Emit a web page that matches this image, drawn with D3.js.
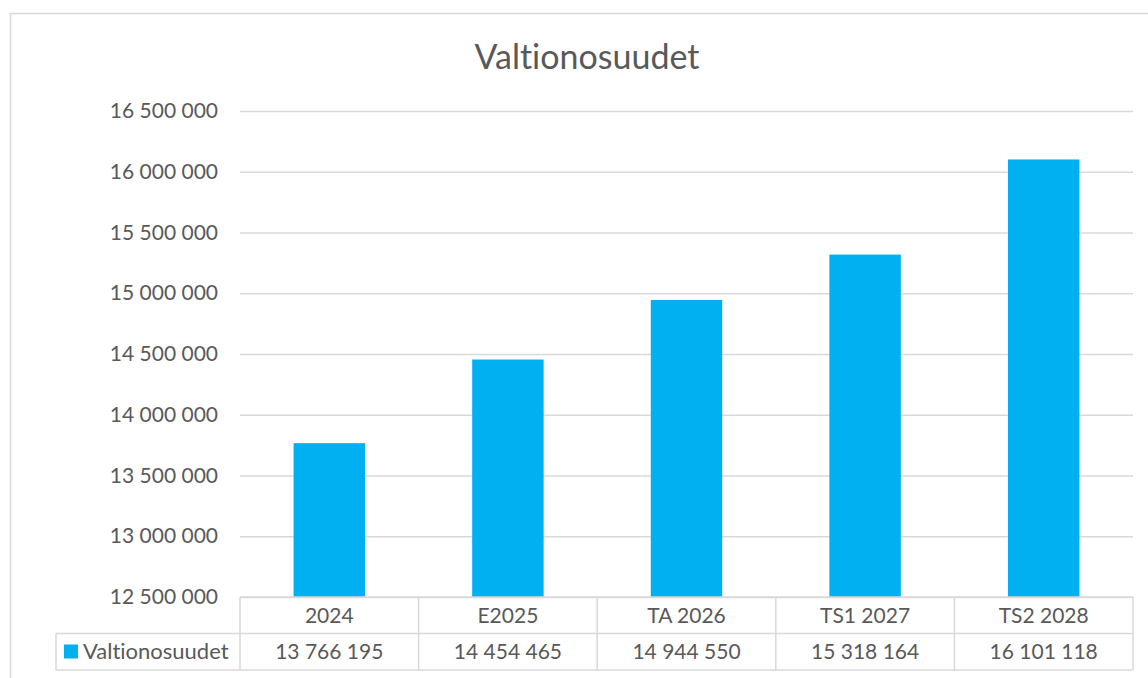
<!DOCTYPE html>
<html>
<head>
<meta charset="utf-8">
<script src="https://cdn.jsdelivr.net/npm/d3@7"></script>
<style>
  body { margin: 0; background: #fff; }
  text { font-family: Lato, "Open Sans", sans-serif; fill: #595959; font-variant-ligatures: none; }
</style>
</head>
<body>
<div id="chart"></div>
<script>
// Data
const categories = ["2024", "E2025", "TA 2026", "TS1 2027", "TS2 2028"];
const values = [13766195, 14454465, 14944550, 15318164, 16101118];
const seriesName = "Valtionosuudet";
const yTicks = [12500000, 13000000, 13500000, 14000000, 14500000, 15000000, 15500000, 16000000, 16500000];

const W = 1148, H = 678;
const plot = {left: 240, right: 1133, top: 111, bottom: 597};
const rowH = 36.5;
const barColor = "#00b0f0";
const lineColor = "#d9d9d9";
const fontSize = "21px";

const fmt = v => d3.format(",")(v).replace(/,/g, " ");

const svg = d3.select("#chart").append("svg")
    .attr("width", W)
    .attr("height", H);

// Outer chart frame (extends past the image on right/bottom)
svg.append("rect")
    .attr("x", 10.5).attr("y", 13.5)
    .attr("width", W + 20).attr("height", H + 20)
    .attr("fill", "none")
    .attr("stroke", lineColor)
    .attr("stroke-width", 1.5);

// Title
svg.append("text")
    .attr("x", 587).attr("y", 69)
    .attr("text-anchor", "middle")
    .style("font-size", "34px")
    .text(seriesName);

const x = d3.scaleBand()
    .domain(categories)
    .range([plot.left, plot.right])
    .paddingInner(0.6)
    .paddingOuter(0.3);

const xCell = d3.scaleBand()
    .domain(categories)
    .range([plot.left, plot.right]);

const y = d3.scaleLinear()
    .domain([12500000, 16500000])
    .range([plot.bottom, plot.top]);

// Gridlines + y labels
const yAxis = d3.axisLeft(y)
    .tickValues(yTicks)
    .tickSize(-(plot.right - plot.left))
    .tickPadding(22)
    .tickFormat(fmt);

const gy = svg.append("g")
    .attr("transform", `translate(${plot.left},0)`)
    .call(yAxis);
gy.select(".domain").remove();
gy.selectAll(".tick line").attr("stroke", lineColor).attr("stroke-width", 1.5);
gy.selectAll(".tick text")
    .style("font-size", fontSize)
    .style("fill", "#595959");

// Bars
svg.append("g").selectAll("rect")
    .data(values)
    .join("rect")
    .attr("x", (d, i) => x(categories[i]))
    .attr("width", x.bandwidth())
    .attr("y", d => y(d))
    .attr("height", d => y(12500000) - y(d))
    .attr("fill", barColor);

// Data table
const table = svg.append("g");
const r0 = plot.bottom, r1 = plot.bottom + rowH, r2 = plot.bottom + 2 * rowH;
const legendLeft = 56;

const hline = (x1, x2, yy) => table.append("line")
    .attr("x1", x1).attr("x2", x2).attr("y1", yy).attr("y2", yy)
    .attr("stroke", lineColor).attr("stroke-width", 1.5);
const vline = (xx, y1, y2) => table.append("line")
    .attr("x1", xx).attr("x2", xx).attr("y1", y1).attr("y2", y2)
    .attr("stroke", lineColor).attr("stroke-width", 1.5);

hline(plot.left, plot.right, r0);
hline(legendLeft, plot.right, r1);
hline(legendLeft, plot.right, r2);
vline(legendLeft, r1, r2);
categories.forEach(c => vline(xCell(c), r0, r2));
vline(plot.right, r0, r2);

table.selectAll(".cat")
    .data(categories)
    .join("text")
    .attr("class", "cat")
    .attr("x", d => xCell(d) + xCell.bandwidth() / 2)
    .attr("y", r0 + rowH / 2)
    .attr("dy", "0.35em")
    .attr("text-anchor", "middle")
    .style("font-size", fontSize)
    .text(d => d);

table.selectAll(".val")
    .data(values)
    .join("text")
    .attr("class", "val")
    .attr("x", (d, i) => xCell(categories[i]) + xCell.bandwidth() / 2)
    .attr("y", r1 + rowH / 2)
    .attr("dy", "0.35em")
    .attr("text-anchor", "middle")
    .style("font-size", fontSize)
    .text(d => fmt(d));

// Legend key
table.append("rect")
    .attr("x", 64).attr("y", r1 + 11)
    .attr("width", 14).attr("height", 14)
    .attr("fill", barColor);
table.append("text")
    .attr("x", 83)
    .attr("y", r1 + rowH / 2)
    .attr("dy", "0.35em")
    .style("font-size", "22px")
    .text(seriesName);
</script>
</body>
</html>
